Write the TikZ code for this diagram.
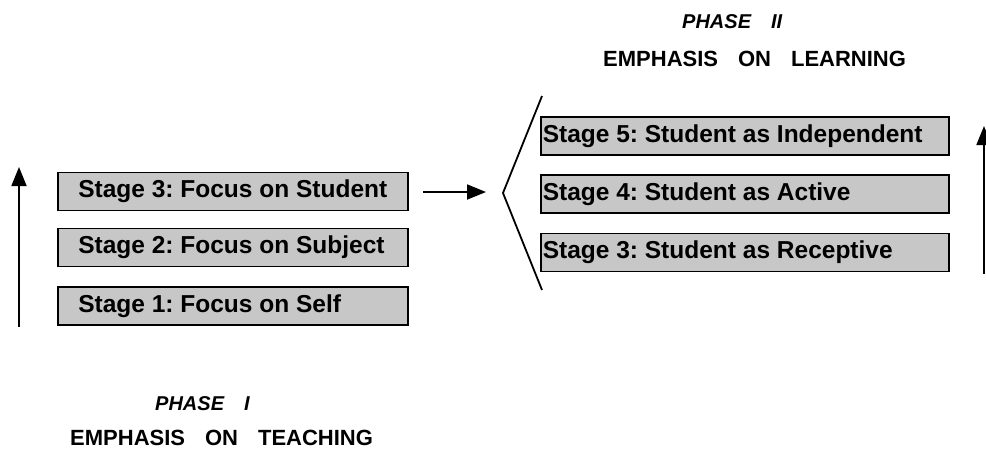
\documentclass[tikz,border=0pt]{standalone}
\usepackage{fontspec}
\setmainfont{Liberation Sans}
\usetikzlibrary{arrows.meta}
\newcommand\phasesp{\spaceskip 20pt\relax}
\newcommand\emphsp{\spaceskip 20pt\relax}
\newcommand\lbox[1]{\makebox[309pt][l]{#1}}
\newcommand\rbox[1]{\makebox[404pt][l]{#1}}
\begin{document}
\begin{tikzpicture}[x=1pt,y=-1pt,
  stagebox/.style={draw=black,line width=1.6pt,fill=black!22,minimum height=38pt,
    anchor=west,font={\bfseries\fontsize{24.5}{27}\selectfont\frenchspacing},inner ysep=0pt},
  leftbox/.style={stagebox,inner xsep=20.5pt},
  rightbox/.style={stagebox,inner xsep=2pt},
  phase/.style={anchor=west,font={\bfseries\itshape\fontsize{20}{22}\selectfont\phasesp},inner sep=0pt},
  emph/.style={anchor=west,font={\bfseries\fontsize{22}{24}\selectfont\emphsp},inner sep=0pt},
  arr/.style={line width=1.8pt,-{Triangle[length=19pt,width=15pt]}},
  chev/.style={line width=1.8pt,line join=miter}
]
\useasboundingbox (0,0) rectangle (986,451);

% Phase I boxes
\node[leftbox] (l3) at (57,191.5) {\lbox{Stage 3: Focus on Student}};
\node[leftbox] (l2) at (57,247.5) {\lbox{Stage 2: Focus on Subject}};
\node[leftbox] (l1) at (57,306) {\lbox{Stage 1: Focus on Self}};

% Phase II boxes
\node[rightbox] (r5) at (540,136) {\rbox{Stage 5: Student as Independent}};
\node[rightbox] (r4) at (540,194) {\rbox{Stage 4: Student as Active}};
\node[rightbox] (r3) at (540,252.5) {\rbox{Stage 3: Student as Receptive}};

% headings
\node[phase] (p2) at (682,22) {PHASE II};
\node[emph] (e2) at (603,59) {EMPHASIS ON LEARNING};
\node[phase] (p1) at (155,404) {PHASE I};
\node[emph] (e1) at (70,438) {EMPHASIS ON TEACHING};

% arrows
\coordinate (la1) at (19,327);
\coordinate (la2) at (19,167);
\draw[arr] (la1) -- (la2);

\coordinate (ma1) at (423,192);
\coordinate (ma2) at (486,192);
\draw[arr] (ma1) -- (ma2);

\coordinate (ra1) at (984,274);
\coordinate (ra2) at (984,126);
\draw[arr] (ra1) -- (ra2);

% chevron
\coordinate (c1) at (542,96);
\coordinate (c2) at (503,193);
\coordinate (c3) at (542,290);
\draw[chev] (c1) -- (c2) -- (c3);
\end{tikzpicture}
\end{document}
